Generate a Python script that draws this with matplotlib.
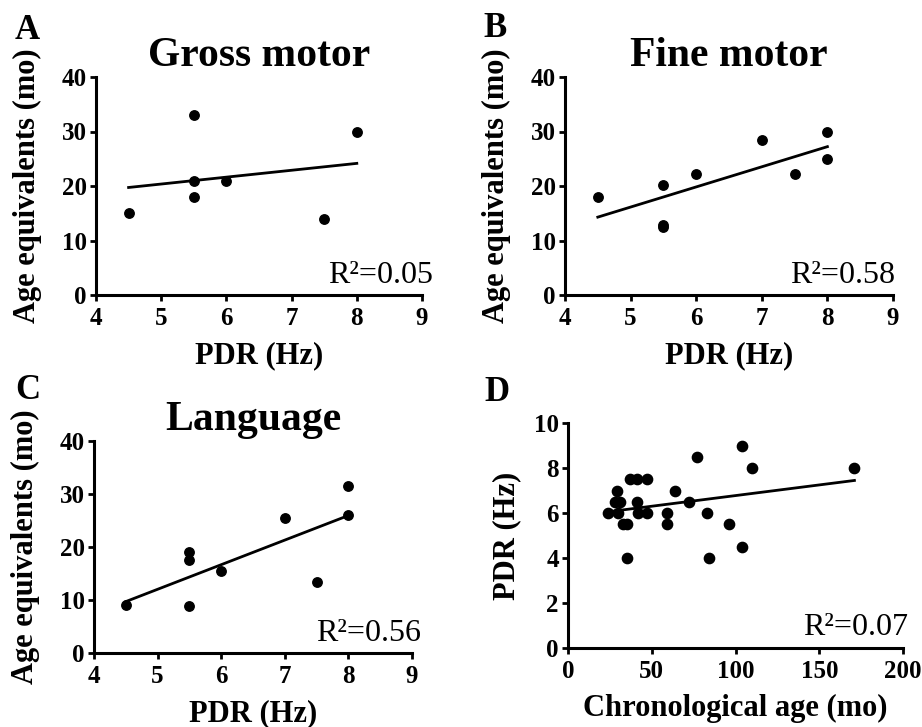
import numpy as np
import matplotlib
matplotlib.use("Agg")
import matplotlib.pyplot as plt

# ---------------- data ----------------
gross_x = [4.5, 5.5, 5.5, 5.5, 6.0, 7.5, 8.0]
gross_y = [15, 33, 21, 18, 21, 14, 30]

fine_x = [4.5, 5.5, 5.5, 5.5, 6.0, 7.0, 7.5, 8.0, 8.0]
fine_y = [18, 20.2, 12.8, 12.5, 22.2, 28.5, 22.2, 30, 25]

lang_x = [4.5, 5.5, 5.5, 5.5, 6.0, 7.0, 7.5, 8.0, 8.0]
lang_y = [9.0, 19.0, 17.5, 8.8, 15.5, 25.5, 13.4, 31.5, 26.0]

chron_x = [24, 29, 28, 31, 30, 33, 35, 35, 37, 41, 41, 42, 47, 47, 59, 59,
           64, 72, 77, 83, 84, 96, 104, 104, 110, 171]
chron_y = [6, 7, 6.5, 6.5, 6, 5.5, 5.5, 4, 7.5, 7.5, 6.5, 6, 7.5, 6, 6, 5.5,
           7, 6.5, 8.5, 6, 4, 5.5, 9, 4.5, 8, 8]

titles = ["Gross motor", "Fine motor", "Language", ""]
letters = ["A", "B", "C", "D"]
r2_labels = ["R²=0.05", "R²=0.58", "R²=0.56", "R²=0.07"]
pdr_ticks = [4, 5, 6, 7, 8, 9]
age_ticks = [0, 10, 20, 30, 40]
chron_ticks = [0, 50, 100, 150, 200]
pdr_y_ticks = [0, 2, 4, 6, 8, 10]

# ---------------- style ----------------
plt.rcParams['font.family'] = ['Liberation Serif', 'DejaVu Serif']
plt.rcParams['font.weight'] = 'bold'

W, H = 922, 727
fig = plt.figure(figsize=(W / 100, H / 100), dpi=100)


def px_axes(left, right, top, bottom):
    return fig.add_axes([left / W, 1 - bottom / H, (right - left) / W, (bottom - top) / H])


boxes = [(96, 422, 77, 295), (565, 893, 77, 295), (94, 412, 441, 653), (568, 903, 423, 648)]
datasets = [(gross_x, gross_y), (fine_x, fine_y), (lang_x, lang_y), (chron_x, chron_y)]
xlabels = ["PDR (Hz)", "PDR (Hz)", "PDR (Hz)", "Chronological age (mo)"]
ylabels = ["Age equivalents (mo)", "Age equivalents (mo)", "Age equivalents (mo)", "PDR (Hz)"]
r2_right = [433, 895, 421, 908]
letter_pos = [(15, 14), (483, 12), (15, 374), (484, 376)]
ylabelpads = [14, 14, 14, 9]

for i, (box, (xs, ys)) in enumerate(zip(boxes, datasets)):
    ax = px_axes(*box)
    ms = 6.8 if i < 3 else 7.4
    ax.plot(xs, ys, 'o', color='black', ms=ms, mec='black', clip_on=False, zorder=3)
    xa = np.array(xs, float)
    ya = np.array(ys, float)
    k, b = np.polyfit(xa, ya, 1)
    xl = np.array([xa.min(), xa.max()])
    ax.plot(xl, k * xl + b, color='black', lw=2.0, zorder=2)

    if i < 3:
        ax.set_xlim(4, 9)
        ax.set_ylim(0, 40)
        ax.set_xticks(pdr_ticks)
        ax.set_yticks(age_ticks)
    else:
        ax.set_xlim(0, 200)
        ax.set_ylim(0, 10)
        ax.set_xticks(chron_ticks)
        ax.set_yticks(pdr_y_ticks)

    for s in ['top', 'right']:
        ax.spines[s].set_visible(False)
    for s in ['left', 'bottom']:
        ax.spines[s].set_linewidth(2.2)
    ax.tick_params(axis='both', direction='out', length=4.5, width=2.0,
                   labelsize=18, pad=2)
    ax.tick_params(axis='x', pad=4)
    for lab in ax.get_xticklabels() + ax.get_yticklabels():
        lab.set_fontweight('bold')

    ax.set_xlabel(xlabels[i], fontsize=22, fontweight='bold', labelpad=8)
    ax.set_ylabel(ylabels[i], fontsize=22, fontweight='bold', labelpad=ylabelpads[i])
    if titles[i]:
        ax.set_title(titles[i], fontsize=30, fontweight='bold', pad=8)

    # R^2 annotation
    left, right, top, bottom = box
    xr = (r2_right[i] - left) / (right - left)
    ax.text(xr, 0.025, r2_labels[i], transform=ax.transAxes, ha='right', va='bottom',
            fontsize=23, fontweight='normal')

    lx, ly = letter_pos[i]
    fig.text(lx / W, 1 - ly / H, letters[i], ha='left', va='top', fontsize=25,
             fontweight='bold')

fig.savefig("out.png", dpi=100, facecolor='white')
